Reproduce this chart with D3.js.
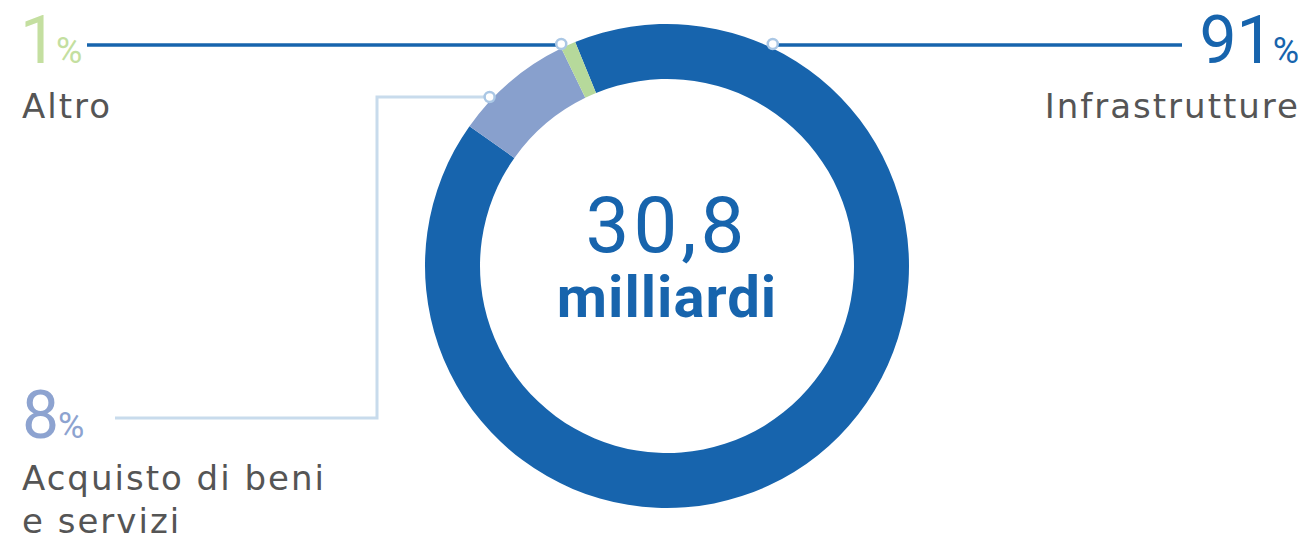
<!DOCTYPE html>
<html>
<head>
<meta charset="utf-8">
<script src="https://cdn.jsdelivr.net/npm/d3@7"></script>
<style>
  body { margin: 0; background: #fff; }
  svg { display: block; }
  .num { font-family: Roboto, "Open Sans", sans-serif; font-weight: 400; }
  .lbl { font-family: "DejaVu Sans", sans-serif; font-size: 34px; fill: #555; letter-spacing: 2px; }
</style>
</head>
<body>
<div id="chart"></div>
<script>
// chart values
const categories = ["Infrastrutture", "Acquisto di beni e servizi", "Altro"];
const shares = [91, 8, 1];
const sliceColors = ["#1764ad", "#88a0cd", "#b6d99b"];
const totalValue = "30,8";
const totalUnit = "milliardi";

const width = 1303, height = 536;
const cx = 667, cy = 266;
const outerR = 242, innerR = 187;

const svg = d3.select("#chart").append("svg")
    .attr("width", width)
    .attr("height", height);

const g = svg.append("g").attr("transform", `translate(${cx},${cy})`);

// ring starts a little left of 12 o'clock
const start = -22.3 * Math.PI / 180;
const pie = d3.pie().sort(null).value(d => d).startAngle(start).endAngle(start + 2 * Math.PI);
const arc = d3.arc().innerRadius(innerR).outerRadius(outerR);

g.selectAll("path")
    .data(pie(shares))
    .join("path")
    .attr("d", arc)
    .attr("fill", (d, i) => sliceColors[i]);

// centre text
g.append("text")
    .attr("class", "num")
    .attr("text-anchor", "middle")
    .attr("y", -14)
    .attr("fill", "#1764ad")
    .style("font-size", "78px")
    .style("letter-spacing", "4px")
    .text(totalValue);
g.append("text")
    .attr("text-anchor", "middle")
    .attr("y", 51)
    .attr("fill", "#1764ad")
    .style("font-family", "Roboto, sans-serif")
    .style("font-weight", "700")
    .style("font-size", "58px")
    .style("letter-spacing", "1px")
    .text(totalUnit);

// point on the ring edge at a given height (left or right side)
const dotR = outerR + 3;
function edgeX(y, side) {
    const dy = cy - y;
    return cx + side * Math.sqrt(dotR * dotR - dy * dy);
}

const leaders = svg.append("g");

// Altro (left, top)
const yTop = 45;
const altroX = edgeX(yTop, -1);
leaders.append("line")
    .attr("x1", 87).attr("x2", altroX).attr("y1", yTop).attr("y2", yTop)
    .attr("stroke", "#1764ad").attr("stroke-width", 3.5);

// Infrastrutture (right, top)
const infraX = edgeX(yTop, 1);
leaders.append("line")
    .attr("x1", infraX).attr("x2", 1182).attr("y1", yTop).attr("y2", yTop)
    .attr("stroke", "#1764ad").attr("stroke-width", 3.5);

// Acquisto (elbow line)
const yAcq = 97;
const acqX = edgeX(yAcq, -1);
leaders.append("path")
    .attr("d", d3.line()([[acqX, yAcq], [377, yAcq], [377, 418], [115, 418]]))
    .attr("fill", "none")
    .attr("stroke", "#c8dbec")
    .attr("stroke-width", 3);

leaders.selectAll("circle")
    .data([[altroX, yTop - 1], [infraX, yTop - 1], [acqX, yAcq]])
    .join("circle")
    .attr("cx", d => d[0]).attr("cy", d => d[1])
    .attr("r", 5)
    .attr("fill", "#fff")
    .attr("stroke", "#aac7e5")
    .attr("stroke-width", 2.5);

// percentages
function pct(x, y, anchor, color, value) {
    const t = svg.append("text")
        .attr("class", "num")
        .attr("x", x).attr("y", y)
        .attr("text-anchor", anchor)
        .attr("fill", color);
    t.append("tspan").style("font-size", "66px").text(value);
    t.append("tspan").style("font-size", "36px").attr("dx", -1).text("%");
}
pct(20, 63, "start", "#c4dfa0", shares[2]);
pct(1299, 63, "end", "#1764ad", shares[0]);
pct(22, 438, "start", "#8da3d0", shares[1]);

// category labels
svg.append("text").attr("class", "lbl").attr("x", 22).attr("y", 118).text(categories[2]);
svg.append("text").attr("class", "lbl").attr("x", 1300).attr("y", 118)
    .attr("text-anchor", "end").text(categories[0]);
const acq = svg.append("text").attr("class", "lbl").attr("x", 22).attr("y", 490);
acq.append("tspan").attr("x", 22).text("Acquisto di beni");
acq.append("tspan").attr("x", 22).attr("dy", 43).text("e servizi");
</script>
</body>
</html>
